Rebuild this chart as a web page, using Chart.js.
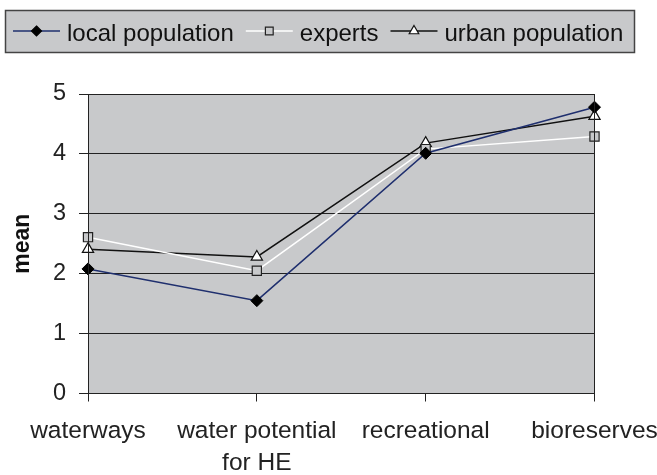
<!DOCTYPE html>
<html>
<head>
<meta charset="utf-8">
<script src="https://cdn.jsdelivr.net/npm/chart.js@4.4.0/dist/chart.umd.min.js"></script>
<style>
  html, body { margin: 0; padding: 0; background: #fff; }
  #wrap { width: 657px; height: 475px; position: relative; }
</style>
</head>
<body>
<div id="wrap"><canvas id="c" width="657" height="475"></canvas></div>
<script>
const categories = [['waterways'], ['water potential', 'for HE'], ['recreational'], ['bioreserves']];
const localPopulation = [2.08, 1.55, 4.01, 4.78];
const experts = [2.61, 2.05, 4.08, 4.29];
const urbanPopulation = [2.41, 2.28, 4.18, 4.63];
const yTicks = [0, 1, 2, 3, 4, 5];

const FONT = '"Liberation Sans", Arial, sans-serif';
const PLOT_BG = '#c8c9cb';

// fond gris + cadre de la zone de tracé
const plotFrame = {
  id: 'plotFrame',
  beforeDraw(chart) {
    const { ctx, chartArea: a } = chart;
    ctx.save();
    ctx.fillStyle = PLOT_BG;
    ctx.fillRect(a.left, a.top, a.right - a.left, a.bottom - a.top);
    ctx.restore();
  },
  afterDatasetsDraw(chart) {
    const { ctx, chartArea: a } = chart;
    ctx.save();
    ctx.strokeStyle = '#222';
    ctx.lineWidth = 1;
    ctx.strokeRect(Math.round(a.left) + 0.5, Math.round(a.top) + 0.5, Math.round(a.right - a.left) - 1, Math.round(a.bottom - a.top) - 1);
    ctx.restore();
  }
};

function drawMarker(ctx, style, r, x, y) {
  ctx.beginPath();
  if (style === 'rectRot') {
    ctx.moveTo(x, y - r); ctx.lineTo(x + r, y); ctx.lineTo(x, y + r); ctx.lineTo(x - r, y); ctx.closePath();
  } else if (style === 'rect') {
    const s = r * Math.SQRT1_2;
    ctx.rect(x - s, y - s, 2 * s, 2 * s);
  } else {
    ctx.moveTo(x, y - r); ctx.lineTo(x + r * 0.87, y + r * 0.5); ctx.lineTo(x - r * 0.87, y + r * 0.5); ctx.closePath();
  }
  ctx.fill();
  ctx.stroke();
}

// légende encadrée en haut, ligne + marqueur comme l'original
const boxLegend = {
  id: 'boxLegend',
  afterDraw(chart) {
    const ctx = chart.ctx;
    const x0 = 5, y0 = 10, w = 629, h = 42;
    ctx.save();
    ctx.fillStyle = PLOT_BG;
    ctx.fillRect(x0, y0, w, h);
    ctx.strokeStyle = '#444';
    ctx.lineWidth = 1.5;
    ctx.strokeRect(x0 + 0.5, y0 + 0.5, w, h);
    ctx.font = '24px ' + FONT;
    ctx.textBaseline = 'alphabetic';
    let x = 13;
    const cy = 31;
    chart.data.datasets.forEach(ds => {
      ctx.strokeStyle = ds.borderColor;
      ctx.lineWidth = 1.5;
      ctx.beginPath();
      ctx.moveTo(x, cy);
      ctx.lineTo(x + 47, cy);
      ctx.stroke();
      ctx.fillStyle = ds.pointBackgroundColor;
      ctx.strokeStyle = ds.pointBorderColor;
      ctx.lineWidth = 1.2;
      drawMarker(ctx, ds.pointStyle, ds.pointRadius - 1, x + 23.5, cy);
      ctx.fillStyle = '#111';
      ctx.fillText(ds.label, x + 54, 41);
      x += 54 + ctx.measureText(ds.label).width + 12;
    });
    ctx.restore();
  }
};

new Chart(document.getElementById('c'), {
  type: 'line',
  data: {
    labels: categories,
    datasets: [
      { label: 'local population', data: localPopulation, borderColor: '#1f2f6e', borderWidth: 1.5,
        pointStyle: 'rectRot', pointRadius: 6, pointBackgroundColor: '#000', pointBorderColor: '#000', pointBorderWidth: 1 },
      { label: 'experts', data: experts, borderColor: '#ffffff', borderWidth: 1.5,
        pointStyle: 'rect', pointRadius: 6.5, pointBackgroundColor: PLOT_BG, pointBorderColor: '#222', pointBorderWidth: 1.2 },
      { label: 'urban population', data: urbanPopulation, borderColor: '#111', borderWidth: 1.5,
        pointStyle: 'triangle', pointRadius: 6.5, pointBackgroundColor: '#fff', pointBorderColor: '#111', pointBorderWidth: 1.2 }
    ]
  },
  options: {
    responsive: false,
    animation: false,
    layout: { padding: { top: 94, right: 62.5, left: 0, bottom: 0 } },
    plugins: { legend: { display: false }, tooltip: { enabled: false } },
    elements: { line: { tension: 0 } },
    scales: {
      x: {
        offset: false,
        // les libellés des extrémités débordent, on ne laisse pas l'axe rétrécir la zone
        afterFit(s) { s.height = 81.5; s.paddingLeft = 0; s.paddingRight = 0; },
        grid: { drawOnChartArea: false, drawTicks: true, tickLength: 8, color: '#222' },
        border: { display: false },
        ticks: { color: '#222', font: { family: FONT, size: 24.5, lineHeight: 1.3 }, padding: 14, maxRotation: 0, autoSkip: false }
      },
      y: {
        min: 0, max: 5,
        afterFit(s) { s.width = 88; },
        afterBuildTicks(s) { s.ticks = yTicks.map(v => ({ value: v })); },
        grid: { color: '#222', tickLength: 9 },
        border: { display: false },
        title: { display: true, text: 'mean', color: '#111', font: { family: FONT, size: 23, weight: 'bold' }, padding: { top: 9, bottom: 0 } },
        ticks: { color: '#222', font: { family: FONT, size: 23.5 }, padding: 13 }
      }
    }
  },
  plugins: [plotFrame, boxLegend]
});
</script>
</body>
</html>
